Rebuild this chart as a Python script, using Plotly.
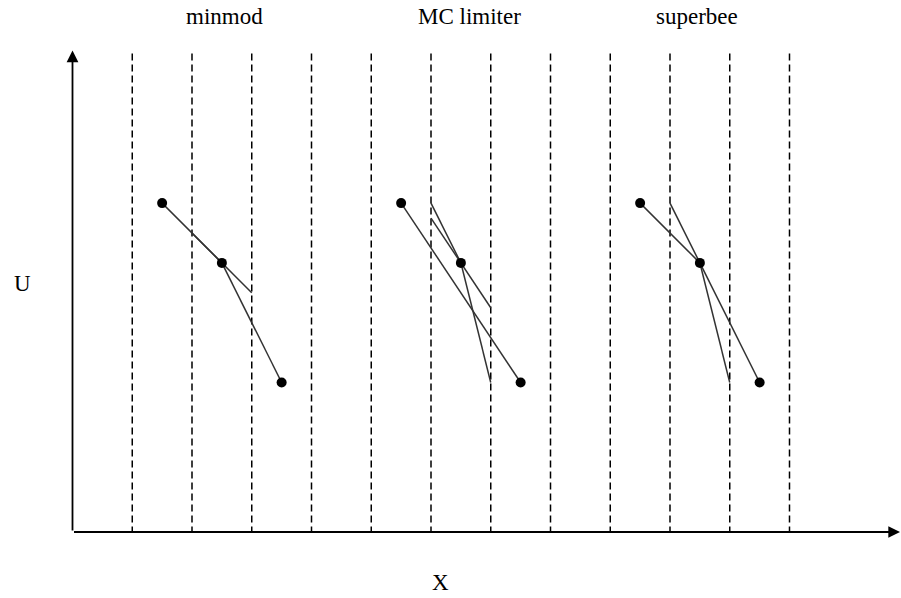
import plotly.graph_objects as go

# ---- data (cell units: boundaries at integers, U in same units) ----
cell_boundaries = [1, 2, 3, 4, 5, 6, 7, 8, 9, 10, 11, 12]
boundary_top = 8.0

panel_titles = ["minmod", "MC limiter", "superbee"]

# cell-average points
minmod_x = [1.5, 2.5, 3.5]
minmod_u = [5.5, 4.5, 2.5]
mc_x = [5.5, 6.5, 7.5]
mc_u = [5.5, 4.5, 2.5]
superbee_x = [9.5, 10.5, 11.5]
superbee_u = [5.5, 4.5, 2.5]

# line segments (x pairs, u pairs)
minmod_seg_x = [[1.5, 2.5], [2.5, 3.5], [2.0, 3.0]]
minmod_seg_u = [[5.5, 4.5], [4.5, 2.5], [5.0, 4.0]]
mc_seg_x = [[5.5, 7.5], [6.0, 6.5], [6.5, 7.0], [6.0, 7.0]]
mc_seg_u = [[5.5, 2.5], [5.5, 4.5], [4.5, 2.5], [5.25, 3.75]]
superbee_seg_x = [[9.5, 10.5], [10.5, 11.5], [10.0, 10.5], [10.5, 11.0]]
superbee_seg_u = [[5.5, 4.5], [4.5, 2.5], [5.5, 4.5], [4.5, 2.5]]

axis_x_end = 13.85
axis_u_end = 8.05

FONT = "Liberation Serif, Times New Roman, serif"

fig = go.Figure()

# dashed cell boundaries
bx, by = [], []
for b in cell_boundaries:
    bx += [b, b, None]
    by += [boundary_top, 0, None]
fig.add_trace(go.Scatter(x=bx, y=by, mode="lines",
                         line=dict(color="black", width=1.5, dash="7px,4px"),
                         hoverinfo="skip", showlegend=False))

# segments
for sx, su in [(minmod_seg_x, minmod_seg_u), (mc_seg_x, mc_seg_u),
               (superbee_seg_x, superbee_seg_u)]:
    lx, ly = [], []
    for xs, us in zip(sx, su):
        lx += xs + [None]
        ly += us + [None]
    fig.add_trace(go.Scatter(x=lx, y=ly, mode="lines",
                             line=dict(color="#333333", width=1.5),
                             hoverinfo="skip", showlegend=False))

# points
for px, pu in [(minmod_x, minmod_u), (mc_x, mc_u), (superbee_x, superbee_u)]:
    fig.add_trace(go.Scatter(x=px, y=pu, mode="markers",
                             marker=dict(color="black", size=10),
                             hoverinfo="skip", showlegend=False))

annotations = []
# axes with arrowheads
annotations.append(dict(x=axis_x_end, y=0, ax=0, ay=0, xref="x", yref="y",
                        axref="x", ayref="y", showarrow=True, text="",
                        arrowhead=2, arrowsize=1.3, arrowwidth=1.8, arrowcolor="black"))
annotations.append(dict(x=0, y=axis_u_end, ax=0, ay=0, xref="x", yref="y",
                        axref="x", ayref="y", showarrow=True, text="",
                        arrowhead=2, arrowsize=1.3, arrowwidth=1.8, arrowcolor="black"))

title_pos = [2.55, 6.65, 10.45]
for t, xp in zip(panel_titles, title_pos):
    annotations.append(dict(x=xp, y=8.62, xref="x", yref="y", text=t,
                            showarrow=False, font=dict(family=FONT, size=23, color="black")))
annotations.append(dict(x=-0.84, y=4.15, xref="x", yref="y", text="U",
                        showarrow=False, font=dict(family=FONT, size=23, color="black")))
annotations.append(dict(x=6.16, y=-0.85, xref="x", yref="y", text="X",
                        showarrow=False, font=dict(family=FONT, size=23, color="black")))

W, H = 901, 598
ox, oy = 72.5, 532.0
sx_, sy_ = 59.75, 59.8
x0 = -ox / sx_
x1 = (W - ox) / sx_
y1 = oy / sy_
y0 = (oy - H) / sy_

fig.update_layout(
    width=W, height=H,
    margin=dict(l=0, r=0, t=0, b=0),
    paper_bgcolor="white", plot_bgcolor="white",
    xaxis=dict(range=[x0, x1], visible=False, fixedrange=True),
    yaxis=dict(range=[y0, y1], visible=False, fixedrange=True),
    annotations=annotations,
    showlegend=False,
)

# remove the default page margin so the figure fills the window exactly
fig.write_html("out.html",
               config={"displayModeBar": False, "staticPlot": True},
               post_script="document.body.style.margin='0';document.body.style.overflow='hidden';")
